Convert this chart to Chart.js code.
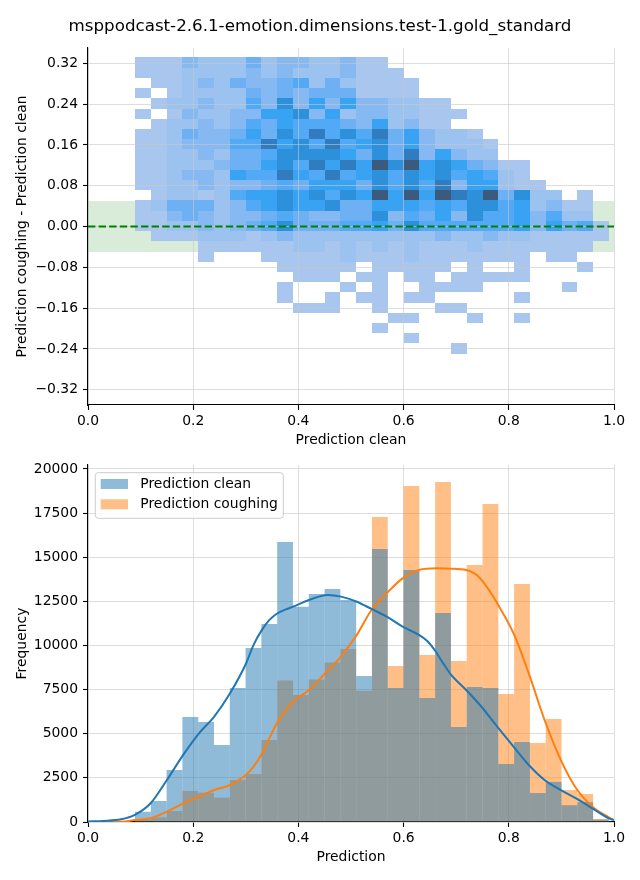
<!DOCTYPE html>
<html>
<head>
<meta charset="utf-8">
<script src="https://cdn.jsdelivr.net/npm/chart.js@4.4.1/dist/chart.umd.min.js"></script>
<style>
  html, body { margin: 0; padding: 0; background: #ffffff; }
  #wrap { position: relative; width: 640px; height: 880px; overflow: hidden; }
  #c1 { position: absolute; left: 0; top: 0; }
  #c2 { position: absolute; left: 0; top: 450px; }
</style>
</head>
<body>
<div id="wrap">
  <canvas id="c1" width="640" height="455"></canvas>
  <canvas id="c2" width="640" height="430"></canvas>
</div>
<script>
// ---------------- DATA ----------------
const chartTitle = 'msppodcast-2.6.1-emotion.dimensions.test-1.gold_standard';
const xTickValues = [0, 0.2, 0.4, 0.6, 0.8, 1.0];
const diffTickValues = [-0.32, -0.24, -0.16, -0.08, 0, 0.08, 0.16, 0.24, 0.32];
const freqTickValues = [0, 2500, 5000, 7500, 10000, 12500, 15000, 17500, 20000];

// histogram binning of the predictions (30 bins) and of the difference (29 bins)
const predBinStart = 0.0894, predBinWidth = 0.03003;
const diffBinStart = -0.2493, diffBinHeight = 0.02003;

// tolerance band and reference line of the difference plot
const toleranceBand = [-0.05, 0.05];
const referenceDiff = 0;

// 2D histogram: relative count level of each cell (0 = empty, 1 = lowest .. 9 = highest)
// rows from the top (difference ~0.32) to the bottom (~-0.24), columns = prediction bins
const heatLevels = [
  '111322242332231100000000000000',
  '111222232322231110000000000000',
  '011232433452421111000000000000',
  '101222243434441111000000000000',
  '012232253736363322110000000000',
  '101322336673623322111000000000',
  '012232354655543623110000000000',
  '112433464758575846322100000000',
  '112333558675856746322210000000',
  '112232445777764748363220000000',
  '112223446758686979676431100000',
  '112332655865856757675652100000',
  '112232334546664757583662110000',
  '012212566767576969698794722010',
  '124442356766744666565775623110',
  '113432334543344735463755635220',
  '112232345744455647555555636451',
  '011122212322222222232232211111',
  '000011111122121212111211111110',
  '000010001111121112111111101100',
  '000000000111110111110100100010',
  '000000000011101101101111100000',
  '000000000100010100111100000100',
  '000000000100101101100000100000',
  '000000000011100100011000000000',
  '000000000000000011000100100000',
  '000000000000000100000000000000',
  '000000000000000001000000000000',
  '000000000000000000001000000000'
];

// 1D histograms (counts per prediction bin)
const cleanCounts = [580, 1190, 2950, 5950, 5670, 4360, 7590, 9860, 11220, 15860,
  12200, 12920, 13200, 12580, 8270, 15470, 7590, 14280, 7030, 11840,
  5380, 7650, 7590, 3290, 4530, 1640, 2270, 950, 1120, 130];
const coughCounts = [150, 265, 620, 1760, 1660, 1380, 2380, 2720, 4650, 8010,
  7200, 8080, 9030, 9800, 7440, 17280, 8840, 19040, 9460, 19260,
  9120, 14560, 18020, 7250, 13480, 4480, 5840, 1810, 1590, 170];

// KDE curves (scaled to counts)
const kdeCleanX = [0.0, 0.03, 0.063, 0.089, 0.119, 0.150, 0.181, 0.211, 0.240, 0.270, 0.300, 0.315, 0.331, 0.345, 0.359, 0.375, 0.390, 0.420, 0.456, 0.481, 0.511, 0.539, 0.568, 0.598, 0.629, 0.645, 0.660, 0.675, 0.690, 0.719, 0.748, 0.778, 0.809, 0.838, 0.868, 0.899, 0.928, 0.959, 0.990, 1.0];
const kdeCleanY = [30, 60, 150, 400, 1060, 2380, 3800, 5020, 5970, 7290, 8950, 10050, 10900, 11450, 11800, 12030, 12200, 12580, 12860, 12770, 12480, 12070, 11630, 11070, 10600, 10250, 9700, 9000, 8350, 7480, 6530, 5400, 4270, 3230, 2380, 1810, 1340, 776, 210, 110];
const kdeCoughX = [0.0, 0.063, 0.089, 0.119, 0.150, 0.181, 0.211, 0.240, 0.270, 0.300, 0.315, 0.331, 0.345, 0.359, 0.375, 0.390, 0.420, 0.451, 0.481, 0.511, 0.539, 0.568, 0.598, 0.629, 0.663, 0.688, 0.719, 0.739, 0.758, 0.778, 0.809, 0.838, 0.868, 0.899, 0.928, 0.959, 0.990, 1.0];
const kdeCoughY = [5, 20, 110, 210, 584, 1060, 1433, 1813, 2096, 2663, 3150, 3890, 4750, 5590, 6300, 6816, 7479, 8424, 9367, 10600, 12010, 12960, 13800, 14280, 14370, 14350, 14280, 13990, 13330, 12390, 10690, 8420, 5780, 3510, 1910, 870, 270, 100];

// ---------------- STYLE ----------------
const FAMILY = "'DejaVu Sans', sans-serif";
const FONT = { family: FAMILY, size: 13.9 };
const gridCol = 'rgba(200,200,200,0.6)';
const heatStops = ['#a9c6ee', '#9cc2f0', '#86b9f2', '#6db1f4', '#52a9f5', '#38a2f3', '#2c90da', '#317cbe', '#3c5a7c'];
Chart.defaults.font.family = FAMILY;
Chart.defaults.font.size = 13.9;
Chart.defaults.color = '#000';

function mpl(s) { return s.replace('-', '\u2212'); }
function hexToRgb(h) { return [1, 3, 5].map(i => parseInt(h.substr(i, 2), 16)); }
function heatColor(v, vmax) {
  const t = Math.max(0, Math.min(1, (v - 1) / (vmax - 1))) * (heatStops.length - 1);
  const i = Math.min(Math.floor(t), heatStops.length - 2), f = t - i;
  const a = hexToRgb(heatStops[i]), b = hexToRgb(heatStops[i + 1]);
  return 'rgb(' + a.map((c, k) => Math.round(c + (b[k] - c) * f)).join(',') + ')';
}

// build cells from the level table
const cells = [];
heatLevels.forEach((row, r) => {
  const nRows = heatLevels.length;
  for (let c = 0; c < row.length; c++) {
    const v = +row[c];
    if (!v) continue;
    const x0 = predBinStart + c * predBinWidth;
    const y0 = diffBinStart + (nRows - 1 - r) * diffBinHeight;
    cells.push({ x: x0 + predBinWidth / 2, y: y0 + diffBinHeight / 2, x0: x0, x1: x0 + predBinWidth, y0: y0, y1: y0 + diffBinHeight, v: v });
  }
});
const heatMax = Math.max(...cells.map(c => c.v));

const heatPlugin = {
  id: 'heatCells',
  beforeDraw(chart) {
    const { ctx, chartArea: a, scales: { x, y } } = chart;
    ctx.save();
    ctx.beginPath();
    ctx.rect(a.left, a.top, a.right - a.left, a.bottom - a.top);
    ctx.clip();
    const b1 = y.getPixelForValue(toleranceBand[1]), b0 = y.getPixelForValue(toleranceBand[0]);
    ctx.fillStyle = 'rgba(0,128,0,0.15)';
    ctx.fillRect(a.left, b1, a.right - a.left, b0 - b1);
    chart.data.datasets[0].data.forEach(c => {
      const l = Math.round(x.getPixelForValue(c.x0)), rr = Math.round(x.getPixelForValue(c.x1));
      const t = Math.round(y.getPixelForValue(c.y1)), bb = Math.round(y.getPixelForValue(c.y0));
      ctx.fillStyle = heatColor(c.v, heatMax);
      ctx.fillRect(l, t, rr - l, bb - t);
    });
    ctx.restore();
  },
  afterDraw(chart) {
    const { ctx, chartArea: a, scales: { y } } = chart;
    const py = y.getPixelForValue(referenceDiff);
    ctx.save();
    ctx.setLineDash([7.4, 3.2]);
    ctx.strokeStyle = '#008000';
    ctx.lineWidth = 2;
    ctx.beginPath();
    ctx.moveTo(a.left, py);
    ctx.lineTo(a.right, py);
    ctx.stroke();
    ctx.restore();
  }
};

function xAxis(title, height, titlePadBottom) {
  return {
    type: 'linear', position: 'bottom', min: 0, max: 1, offset: false,
    afterBuildTicks: s => { s.ticks = xTickValues.map(v => ({ value: v })); },
    afterFit: s => { s.height = height; },
    ticks: { callback: v => v.toFixed(1), padding: 3, maxRotation: 0, autoSkip: false, color: '#000', font: FONT },
    grid: { color: gridCol, lineWidth: 1, tickColor: '#000', tickLength: 5, tickWidth: 1.1, offset: false },
    border: { display: true, color: '#000', width: 1.1 },
    title: { display: true, text: title, color: '#000', font: FONT, padding: { top: 0, bottom: titlePadBottom } }
  };
}
function yAxis(title, min, max, tickVals, fmt, width, titlePadTop) {
  return {
    type: 'linear', position: 'left', min: min, max: max,
    afterBuildTicks: s => { s.ticks = tickVals.map(v => ({ value: v })); },
    afterFit: s => { s.width = width; },
    ticks: { callback: fmt, padding: 5, autoSkip: false, color: '#000', font: FONT },
    grid: { color: gridCol, lineWidth: 1, tickColor: '#000', tickLength: 5, tickWidth: 1.1 },
    border: { display: true, color: '#000', width: 1.1 },
    title: { display: true, text: title, color: '#000', font: FONT, padding: { top: titlePadTop, bottom: 0 } }
  };
}

// ---------------- TOP: 2D histogram ----------------
new Chart(document.getElementById('c1'), {
  type: 'scatter',
  data: { datasets: [{ label: 'cells', data: cells, pointRadius: 0, pointHoverRadius: 0 }] },
  options: {
    responsive: false, animation: false, events: [],
    layout: { padding: { left: 26, right: 26, top: 0, bottom: 0 } },
    plugins: {
      legend: { display: false }, tooltip: { enabled: false },
      title: { display: true, text: chartTitle, color: '#000', font: { family: FAMILY, size: 16.7, weight: 'normal' }, padding: { top: 17, bottom: 11 } }
    },
    scales: {
      x: xAxis('Prediction clean', 50, 6.6),
      y: yAxis('Prediction coughing - Prediction clean', -0.35, 0.35, diffTickValues, v => mpl(v.toFixed(2)), 62, -12.3)
    }
  },
  plugins: [heatPlugin]
});

// ---------------- BOTTOM: histograms + KDE ----------------
const binCenters = cleanCounts.map((_, i) => predBinStart + (i + 0.5) * predBinWidth);
const legendPlugin = {
  id: 'mplLegend',
  afterDraw(chart) {
    const { ctx, chartArea: a } = chart;
    const items = chart.data.datasets.filter(d => d.type === 'bar');
    const bx = a.left + 7.3, by = a.top + 7.7, bw = 188, bh = 45.6, r = 3;
    ctx.save();
    ctx.beginPath();
    ctx.moveTo(bx + r, by);
    ctx.lineTo(bx + bw - r, by); ctx.quadraticCurveTo(bx + bw, by, bx + bw, by + r);
    ctx.lineTo(bx + bw, by + bh - r); ctx.quadraticCurveTo(bx + bw, by + bh, bx + bw - r, by + bh);
    ctx.lineTo(bx + r, by + bh); ctx.quadraticCurveTo(bx, by + bh, bx, by + bh - r);
    ctx.lineTo(bx, by + r); ctx.quadraticCurveTo(bx, by, bx + r, by);
    ctx.closePath();
    ctx.fillStyle = 'rgba(255,255,255,0.8)';
    ctx.fill();
    ctx.strokeStyle = '#cccccc';
    ctx.lineWidth = 1;
    ctx.stroke();
    ctx.font = '13.9px ' + FAMILY;
    ctx.textBaseline = 'middle';
    ctx.textAlign = 'left';
    items.forEach((d, i) => {
      const ry = by + 6.3 + i * 20.3;
      ctx.fillStyle = d.backgroundColor;
      ctx.fillRect(bx + 5.4, ry, 27.3, 10);
      ctx.fillStyle = '#000';
      ctx.fillText(d.label, bx + 45, ry + 5.5);
    });
    ctx.restore();
  }
};

new Chart(document.getElementById('c2'), {
  type: 'bar',
  data: {
    datasets: [
      { type: 'bar', label: 'Prediction clean', data: binCenters.map((c, i) => ({ x: c, y: cleanCounts[i] })),
        backgroundColor: 'rgba(31,119,180,0.5)', borderWidth: 0, barPercentage: 1, categoryPercentage: 1, grouped: false, inflateAmount: 0, order: 2 },
      { type: 'bar', label: 'Prediction coughing', data: binCenters.map((c, i) => ({ x: c, y: coughCounts[i] })),
        backgroundColor: 'rgba(255,127,14,0.5)', borderWidth: 0, barPercentage: 1, categoryPercentage: 1, grouped: false, inflateAmount: 0, order: 3 },
      { type: 'line', label: 'KDE clean', data: kdeCleanX.map((x, i) => ({ x: x, y: kdeCleanY[i] })),
        borderColor: '#1f77b4', borderWidth: 2, pointRadius: 0, fill: false, cubicInterpolationMode: 'monotone', order: 0 },
      { type: 'line', label: 'KDE coughing', data: kdeCoughX.map((x, i) => ({ x: x, y: kdeCoughY[i] })),
        borderColor: '#ff7f0e', borderWidth: 2, pointRadius: 0, fill: false, cubicInterpolationMode: 'monotone', order: 1 }
    ]
  },
  options: {
    responsive: false, animation: false, events: [],
    layout: { padding: { left: 0, right: 26, top: 15, bottom: 0 } },
    plugins: { legend: { display: false }, tooltip: { enabled: false }, title: { display: false } },
    scales: {
      x: xAxis('Prediction', 58, 14.7),
      y: yAxis('Frequency', 0, 20226, freqTickValues, v => String(v), 88, 14)
    }
  },
  plugins: [legendPlugin]
});
</script>
</body>
</html>
